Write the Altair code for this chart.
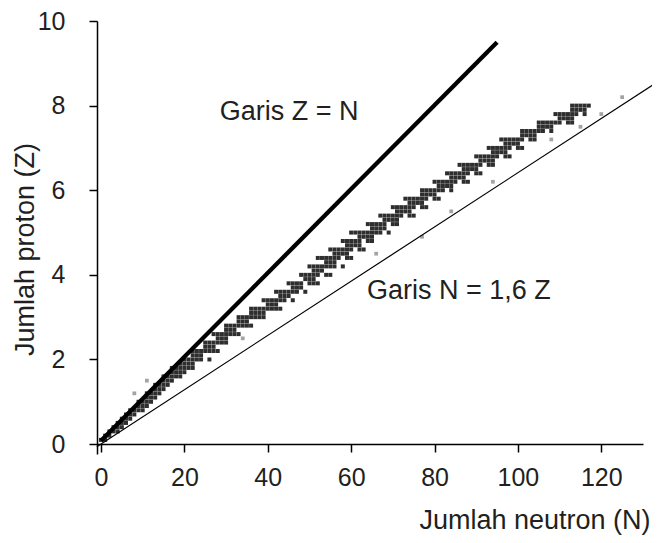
import altair as alt
import pandas as pd

# ---- data ----
proton_counts = [1, 2, 3, 4, 5, 6, 7, 8, 9, 10,
                 11, 12, 13, 14, 15, 16, 17, 18, 19, 20,
                 21, 22, 23, 24, 25, 26, 27, 28, 29, 30,
                 31, 32, 33, 34, 35, 36, 37, 38, 39, 40,
                 41, 42, 43, 44, 45, 46, 47, 48, 49, 50,
                 51, 52, 53, 54, 55, 56, 57, 58, 59, 60,
                 61, 62, 63, 64, 65, 66, 67, 68, 69, 70,
                 71, 72, 73, 74, 75, 76, 77, 78, 79, 80]
neutron_lists = [
    [0, 1], [1, 2], [2, 3, 4], [3, 4, 5], [4, 5, 6], [5, 6, 7], [6, 7, 8], [7, 8, 9, 10], [9, 10, 11], [9, 10, 11, 12],
    [11, 12, 13], [11, 12, 13, 14], [13, 14, 15], [13, 14, 15, 16], [15, 16, 17], [15, 16, 17, 18, 19], [17, 18, 19, 20], [17, 18, 19, 20, 21, 22], [19, 20, 21, 22], [20, 21, 22, 23, 24, 26],
    [22, 23, 24], [22, 23, 24, 25, 26, 27, 28], [25, 26, 27], [25, 26, 27, 28, 29, 30], [28, 29, 30], [27, 28, 29, 30, 31, 32, 33], [30, 31, 32], [30, 31, 32, 33, 34, 35, 36], [33, 34, 35], [33, 34, 35, 36, 37, 38, 39],
    [36, 37, 38, 39], [36, 37, 38, 39, 40, 41, 42, 43], [40, 41, 42], [39, 40, 41, 42, 43, 44, 46], [43, 44, 45], [42, 43, 44, 45, 46, 47, 49], [46, 47, 48], [45, 46, 47, 48, 50, 51, 52], [49, 50, 51], [48, 49, 50, 51, 52, 54, 55],
    [51, 52, 53], [50, 51, 52, 53, 54, 55, 56, 58], [54, 55, 56], [52, 53, 54, 55, 56, 57, 59, 60], [56, 57, 58, 59], [55, 56, 57, 58, 59, 60, 62, 63], [59, 60, 61, 62], [58, 59, 60, 61, 62, 64, 65], [62, 63, 64, 65], [60, 61, 62, 63, 64, 65, 66, 67, 69],
    [65, 66, 67, 68], [64, 65, 66, 67, 68, 70, 71], [68, 69, 70, 71], [67, 68, 69, 70, 71, 72, 74, 75], [71, 72, 73, 74], [70, 71, 72, 73, 74, 75, 77, 78], [74, 75, 76, 77], [73, 74, 75, 76, 77, 78, 80, 81], [77, 78, 79, 80], [77, 78, 79, 80, 81, 82, 84],
    [81, 82, 83, 84], [80, 81, 82, 83, 84, 85, 87, 88], [84, 85, 86, 87], [83, 84, 85, 86, 87, 88, 90, 91], [87, 88, 89, 90], [86, 87, 88, 89, 90, 91, 93, 94], [91, 92, 93, 94], [90, 91, 92, 93, 94, 95, 97, 98], [94, 95, 96, 97], [93, 94, 95, 96, 97, 98, 100, 101],
    [97, 98, 99, 100], [96, 97, 98, 99, 100, 101, 103, 104], [101, 102, 103, 104], [101, 102, 103, 104, 105, 106, 108], [105, 106, 107, 108], [105, 106, 107, 108, 109, 110, 112, 113], [110, 111, 112, 113], [109, 110, 111, 112, 113, 114, 116], [113, 114, 115, 116], [113, 114, 115, 116, 117],
]
outlier_N = [8, 11, 34, 66, 77, 84, 94, 108, 115, 120, 125]
outlier_Z = [12, 15, 25, 45, 49, 55, 62, 72, 75, 78, 82]

line_zn_N = [0, 95]
line_zn_Y = [0.08, 9.5]
line_16_N = [-1, 133]
line_16_Y = [-0.06, 8.53]

label_text = ["Garis Z = N", "Garis N = 1,6 Z"]
label_N = [28.5, 63.8]
label_Y = [7.66, 3.44]

x_ticks = [0, 20, 40, 60, 80, 100, 120]
y_ticks = [0, 2, 4, 6, 8, 10]

# ---- tables ----
rows = []
for z, ns in zip(proton_counts, neutron_lists):
    for n in ns:
        rows.append({"N": n, "Z": z})
stable = pd.DataFrame(rows)
outl = pd.DataFrame({"N": outlier_N, "Z": outlier_Z})
zn = pd.DataFrame({"N": line_zn_N, "Y": line_zn_Y})
l16 = pd.DataFrame({"N": line_16_N, "Y": line_16_Y})
labels = pd.DataFrame({"N": label_N, "Y": label_Y, "t": label_text})

FONT = "Liberation Sans"
TXT = "#231f20"

xscale = alt.Scale(domain=[-0.96, 130], nice=False, zero=False)
yscale = alt.Scale(domain=[-0.234, 10], nice=False, zero=False)

xaxis = alt.Axis(values=x_ticks, title="Jumlah neutron (N)", offset=-10,
                 tickSize=8, labelPadding=13, titleX=553, titleY=84,
                 titleAlign="right", titleBaseline="alphabetic", grid=False)
yaxis = alt.Axis(values=y_ticks, title="Jumlah proton (Z)", tickSize=8,
                 labelPadding=24, titleX=-64, titleY=228, titleAlign="center",
                 titleBaseline="alphabetic", grid=False)

base_x = alt.X("N:Q", scale=xscale, axis=xaxis)

pts = alt.Chart(stable).transform_calculate(Y="datum.Z / 10").mark_square(
    size=16, color="#000000", opacity=0.82
).encode(x=base_x, y=alt.Y("Y:Q", scale=yscale, axis=yaxis))

outp = alt.Chart(outl).transform_calculate(Y="datum.Z / 10").mark_square(
    size=14, color="#333333", opacity=0.45
).encode(x=alt.X("N:Q", scale=xscale), y=alt.Y("Y:Q", scale=yscale))

thin = alt.Chart(l16).mark_line(color="black", strokeWidth=1.2).encode(
    x=alt.X("N:Q", scale=xscale), y=alt.Y("Y:Q", scale=yscale))

thick = alt.Chart(zn).mark_line(color="black", strokeWidth=4.3).encode(
    x=alt.X("N:Q", scale=xscale), y=alt.Y("Y:Q", scale=yscale))

txt = alt.Chart(labels).mark_text(
    align="left", baseline="alphabetic", fontSize=27, font=FONT, color=TXT
).encode(x=alt.X("N:Q", scale=xscale), y=alt.Y("Y:Q", scale=yscale), text="t:N")

chart = alt.layer(pts, outp, thin, thick, txt).properties(
    width=546, height=433,
    autosize=alt.AutoSizeParams(type="none"),
    padding={"left": 89, "top": 13, "right": 9, "bottom": 81},
).configure_view(stroke=None).configure_axis(
    domainColor="black", domainWidth=1.5, tickColor="black", tickWidth=1.5,
    labelFont=FONT, labelFontSize=25, labelColor=TXT,
    titleFont=FONT, titleFontSize=27, titleColor=TXT, titleFontWeight="normal",
)

chart.save("out.html", embed_options={"renderer": "svg", "actions": False})
